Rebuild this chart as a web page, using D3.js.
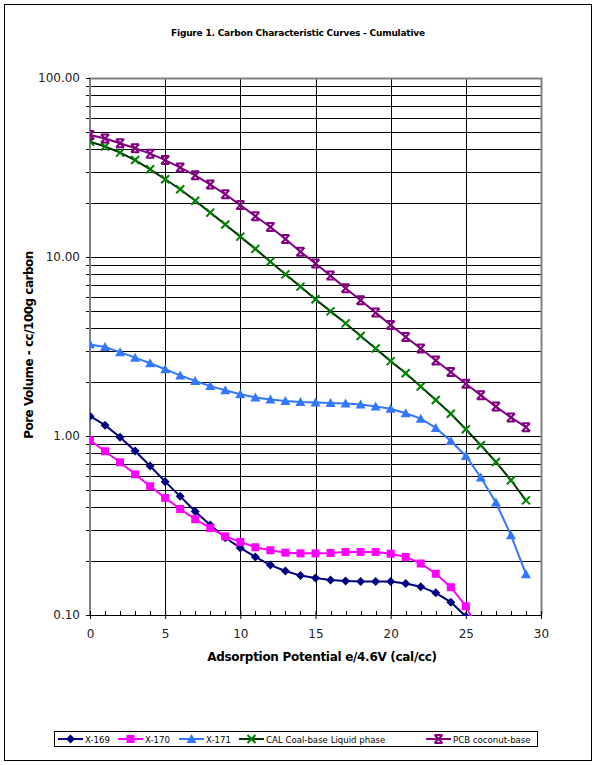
<!DOCTYPE html>
<html>
<head>
<meta charset="utf-8">
<script src="https://cdn.jsdelivr.net/npm/d3@7"></script>
<style>
  body { margin: 0; background: #fff; }
  svg text { font-family: "DejaVu Sans", Verdana, sans-serif; }
</style>
</head>
<body>
<div id="chart"></div>
<script>
(function () {
  // Data (Adsorption potential 0..29)
  const potential = d3.range(0, 30);
  const x169 = [1.29, 1.15, 0.984, 0.825, 0.680, 0.556, 0.460, 0.379, 0.318, 0.270, 0.237, 0.211, 0.190,
    0.176, 0.166, 0.161, 0.157, 0.155, 0.154, 0.154, 0.154, 0.150, 0.144, 0.133, 0.118, 0.098];
  const x170 = [0.946, 0.822, 0.713, 0.611, 0.524, 0.451, 0.391, 0.343, 0.306, 0.275, 0.256, 0.239, 0.230,
    0.223, 0.221, 0.221, 0.222, 0.225, 0.225, 0.225, 0.220, 0.211, 0.194, 0.170, 0.143, 0.112, 0.077];
  const x171 = [3.25, 3.14, 2.94, 2.74, 2.55, 2.36, 2.18, 2.03, 1.90, 1.80, 1.71, 1.64, 1.60,
    1.57, 1.55, 1.54, 1.53, 1.52, 1.50, 1.46, 1.42, 1.34, 1.25, 1.11, 0.938, 0.773, 0.586, 0.425, 0.279, 0.169];
  const calCoal = [44.1, 41.4, 38.3, 34.8, 30.9, 27.2, 23.9, 20.6, 17.7, 15.2, 13.0, 11.1, 9.42,
    8.0, 6.83, 5.81, 4.97, 4.26, 3.62, 3.08, 2.62, 2.24, 1.89, 1.59, 1.33, 1.09, 0.887, 0.716, 0.566, 0.437];
  const pcbCoconut = [48.0, 45.9, 43.2, 40.5, 37.8, 34.8, 31.6, 28.6, 25.4, 22.4, 19.5, 16.9, 14.7,
    12.6, 10.7, 9.19, 7.87, 6.69, 5.73, 4.89, 4.17, 3.57, 3.08, 2.64, 2.28, 1.96, 1.69, 1.46, 1.27, 1.12];

  const seriesNames = ["X-169", "X-170", "X-171", "CAL Coal-base Liquid phase", "PCB coconut-base"];
  const seriesValues = [x169, x170, x171, calCoal, pcbCoconut];
  const xTicks = [0, 5, 10, 15, 20, 25, 30];
  const yTicks = [0.1, 1, 10, 100];

  // Styles per series
  const styles = [
    { line: "#000080", fill: "#000080", marker: "diamond" },
    { line: "#FF00FF", fill: "#FF00FF", marker: "square" },
    { line: "#3377FF", fill: "#3377FF", marker: "triangle" },
    { line: "#003300", fill: "#008000", marker: "cross" },
    { line: "#800080", fill: "#800080", marker: "bowtie" }
  ];

  const W = 599, H = 765;
  const plot = { left: 90, right: 541, top: 78, bottom: 615 };

  const svg = d3.select("#chart").append("svg")
    .attr("width", W).attr("height", H);

  // outer frame
  svg.append("rect")
    .attr("x", 4.5).attr("y", 4.5)
    .attr("width", 587).attr("height", 756)
    .attr("fill", "#fff").attr("stroke", "#000").attr("stroke-width", 1);

  const x = d3.scaleLinear().domain([0, 30]).range([plot.left, plot.right]);
  const y = d3.scaleLog().domain([0.1, 100]).range([plot.bottom, plot.top]);

  // title
  svg.append("text")
    .attr("x", 298).attr("y", 36)
    .attr("text-anchor", "middle")
    .style("font-size", "9px").style("font-weight", "bold")
    .style("letter-spacing", "-0.2px")
    .text("Figure 1. Carbon Characteristic Curves - Cumulative");

  // horizontal gridlines at every log step
  const gridVals = [];
  [0.1, 1, 10].forEach(d => { for (let k = 1; k <= 9; k++) gridVals.push(+(d * k).toPrecision(3)); });
  svg.append("g").selectAll("line")
    .data(gridVals.filter(v => v > 0.1))
    .join("line")
    .attr("x1", plot.left - 4).attr("x2", plot.right)
    .attr("y1", d => Math.round(y(d)) + 0.5).attr("y2", d => Math.round(y(d)) + 0.5)
    .attr("stroke", "#000").attr("stroke-width", 1);

  // vertical gridlines
  svg.append("g").selectAll("line")
    .data(xTicks.slice(1, -1))
    .join("line")
    .attr("x1", d => Math.round(x(d)) + 0.5).attr("x2", d => Math.round(x(d)) + 0.5)
    .attr("y1", plot.top).attr("y2", plot.bottom)
    .attr("stroke", "#000").attr("stroke-width", 1);

  // plot frame (top / right / left gray)
  svg.append("path")
    .attr("d", `M${plot.left},${plot.bottom}V${plot.top + 0.5}H${plot.right + 0.5}V${plot.bottom}`)
    .attr("fill", "none").attr("stroke", "#808080").attr("stroke-width", 2);

  // y axis ticks + labels
  const yAxis = d3.axisLeft(y).tickValues(yTicks).tickSize(4).tickFormat(d3.format(".2f"));
  const yAxisG = svg.append("g")
    .attr("transform", `translate(${plot.left},0)`)
    .call(yAxis);
  yAxisG.select(".domain").remove();
  yAxisG.selectAll(".tick line").attr("stroke", "#000");
  yAxisG.selectAll(".tick text")
    .attr("x", -10)
    .style("font-size", "12px").style("font-family", "DejaVu Sans, sans-serif")
    .attr("fill", "#222");

  // x axis
  const xAxisG = svg.append("g")
    .attr("transform", `translate(0,${plot.bottom})`)
    .call(d3.axisBottom(x).tickValues(xTicks).tickSize(4).tickSizeOuter(0));
  xAxisG.select(".domain").attr("stroke", "#000").attr("d", `M${plot.left - 4},0.5H${plot.right}`);
  xAxisG.selectAll(".tick line").attr("stroke", "#000").attr("y1", -4).attr("y2", 4);
  xAxisG.selectAll(".tick text")
    .attr("y", 14)
    .style("font-size", "12px").style("font-family", "DejaVu Sans, sans-serif")
    .attr("fill", "#222");

  // minor x ticks (inside)
  svg.append("g").selectAll("line")
    .data(potential.filter(d => d % 5 !== 0))
    .join("line")
    .attr("x1", d => Math.round(x(d)) + 0.5).attr("x2", d => Math.round(x(d)) + 0.5)
    .attr("y1", plot.bottom - 4).attr("y2", plot.bottom)
    .attr("stroke", "#000");

  // axis titles
  svg.append("text")
    .attr("x", 322).attr("y", 661)
    .attr("text-anchor", "middle")
    .style("font-size", "12px").style("font-weight", "bold")
    .style("letter-spacing", "-0.3px")
    .text("Adsorption Potential e/4.6V (cal/cc)");

  svg.append("text")
    .attr("transform", `translate(33,345) rotate(-90)`)
    .attr("text-anchor", "middle")
    .style("font-size", "12px").style("font-weight", "bold")
    .style("letter-spacing", "-0.5px")
    .text("Pore Volume - cc/100g carbon");

  // clip for data
  svg.append("clipPath").attr("id", "plotClip")
    .append("rect")
    .attr("x", plot.left).attr("y", plot.top)
    .attr("width", plot.right - plot.left + 1).attr("height", plot.bottom - plot.top + 1);

  function drawMarker(g, type, s) {
    if (type === "diamond") {
      g.append("path").attr("d", "M0,-4.5L4.5,0L0,4.5L-4.5,0Z").attr("fill", s.fill);
    } else if (type === "square") {
      g.append("rect").attr("x", -4).attr("y", -4).attr("width", 8).attr("height", 8).attr("fill", s.fill);
    } else if (type === "triangle") {
      g.append("path").attr("d", "M0,-5L5,4L-5,4Z").attr("fill", s.fill);
    } else if (type === "cross") {
      g.append("path").attr("d", "M-4,-4L4,4M4,-4L-4,4")
        .attr("stroke", s.fill).attr("stroke-width", 2).attr("fill", "none");
    } else if (type === "bowtie") {
      g.append("path").attr("d", "M-4,-4L4,4M4,-4L-4,4M-4,-4H4M-4,4H4")
        .attr("stroke", s.fill).attr("stroke-width", 2).attr("fill", "none");
    }
  }

  const dataG = svg.append("g").attr("clip-path", "url(#plotClip)");
  const line = d3.line()
    .x((d, i) => x(potential[i]))
    .y(d => y(d));

  seriesValues.forEach((vals, si) => {
    const s = styles[si];
    dataG.append("path")
      .datum(vals)
      .attr("d", line)
      .attr("fill", "none")
      .attr("stroke", s.line)
      .attr("stroke-width", 2);
    vals.forEach((v, i) => {
      const g = dataG.append("g").attr("transform", `translate(${x(potential[i])},${y(v)})`);
      drawMarker(g, s.marker, s);
    });
  });

  // legend
  const legend = svg.append("g");
  legend.append("rect")
    .attr("x", 54.5).attr("y", 731.5).attr("width", 483).attr("height", 15)
    .attr("fill", "#fff").attr("stroke", "#000");
  const legendX = [58, 118, 179, 239, 426];
  seriesNames.forEach((name, i) => {
    const s = styles[i];
    const lx = legendX[i];
    const g = legend.append("g").attr("transform", `translate(${lx},739)`);
    g.append("line").attr("x1", 0).attr("x2", 25).attr("y1", 0).attr("y2", 0)
      .attr("stroke", s.line).attr("stroke-width", 2);
    const m = g.append("g").attr("transform", "translate(12.5,0)");
    drawMarker(m, s.marker, s);
    g.append("text")
      .attr("x", 27).attr("y", 3.5)
      .style("font-size", "8.6px")
      .text(name);
  });
})();
</script>
</body>
</html>
